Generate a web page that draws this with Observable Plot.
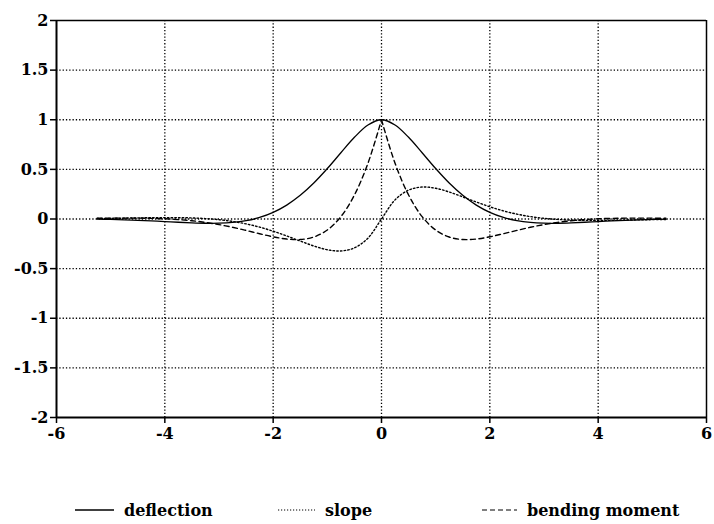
<!DOCTYPE html>
<html>
<head>
<meta charset="utf-8">
<script src="https://cdn.jsdelivr.net/npm/d3@7"></script>
<script src="https://cdn.jsdelivr.net/npm/@observablehq/plot@0.6"></script>
<style>
  html, body { margin: 0; padding: 0; background: #fff; }
  #wrap { position: relative; width: 714px; height: 524px; font-family: "DejaVu Serif", "Liberation Serif", serif; font-weight: bold; }
  #legend { position: absolute; left: 0; top: 497px; width: 714px; height: 26px; }
  .item { position: absolute; top: 0; display: flex; align-items: center; height: 26px; font-size: 16px; color: #000; }
  .item svg { margin-right: 10px; }
</style>
</head>
<body>
<div id="wrap"><div id="chart"></div><div id="legend"></div></div>
<script>
// x positions of the sampled points
const xs = [-5.25,-5,-4.75,-4.5,-4.25,-4,-3.75,-3.5,-3.25,-3,-2.75,-2.5,-2.25,-2,-1.75,-1.5,-1.25,-1,-0.75,-0.5,-0.25,
  0,0.25,0.5,0.75,1,1.25,1.5,1.75,2,2.25,2.5,2.75,3,3.25,3.5,3.75,4,4.25,4.5,4.75,5,5.25];
const deflection = [-0.0017,-0.0045,-0.0084,-0.0132,-0.0192,-0.0258,-0.0327,-0.0389,-0.0428,-0.0423,-0.0347,-0.0166,0.0158,0.0667,0.1400,0.2383,0.3622,0.5083,0.6676,0.8230,0.9473,
  1,0.9473,0.8230,0.6676,0.5083,0.3622,0.2383,0.1400,0.0667,0.0158,-0.0166,-0.0347,-0.0423,-0.0428,-0.0389,-0.0327,-0.0258,-0.0192,-0.0132,-0.0084,-0.0045,-0.0017];
const slope = [0.0044,0.0064,0.0087,0.0108,0.0128,0.0138,0.0134,0.0106,0.0042,-0.0070,-0.0244,-0.0491,-0.0820,-0.1230,-0.1710,-0.2225,-0.2719,-0.3096,-0.3220,-0.2908,-0.1927,
  0,0.1927,0.2908,0.3220,0.3096,0.2719,0.2225,0.1710,0.1230,0.0820,0.0491,0.0244,0.0070,-0.0042,-0.0106,-0.0134,-0.0138,-0.0128,-0.0108,-0.0087,-0.0064,-0.0044];
const bendingMoment = [0.0071,0.0083,0.0090,0.0085,0.0064,0.0019,-0.0059,-0.0177,-0.0344,-0.0563,-0.0835,-0.1149,-0.1482,-0.1793,-0.2020,-0.2068,-0.1816,-0.1108,0.0237,0.2415,0.5619,
  1,0.5619,0.2415,0.0237,-0.1108,-0.1816,-0.2068,-0.2020,-0.1793,-0.1482,-0.1149,-0.0835,-0.0563,-0.0344,-0.0177,-0.0059,0.0019,0.0064,0.0085,0.0090,0.0083,0.0071];
const xTicks = [-6,-4,-2,0,2,4,6];
const yTicks = [-2,-1.5,-1,-0.5,0,0.5,1,1.5,2];
const seriesNames = ["deflection", "slope", "bending moment"];

const dashes = {"deflection": null, "slope": "1.5,2.2", "bending moment": "5,3.5"};

const rowsD = xs.map((x, i) => ({x, y: deflection[i]}));
const rowsS = xs.map((x, i) => ({x, y: slope[i]}));
// bending moment has a cusp at x = 0: draw as two halves
const rowsM = xs.flatMap((x, i) => {
  const r = [];
  if (x <= 0) r.push({x, y: bendingMoment[i], seg: "L"});
  if (x >= 0) r.push({x, y: bendingMoment[i], seg: "R"});
  return r;
});

const gridStyle = {stroke: "#000", strokeOpacity: 1, strokeWidth: 1.3, strokeDasharray: "1.3,2"};

const chart = Plot.plot({
  width: 714,
  height: 462,
  marginLeft: 56,
  marginRight: 8,
  marginTop: 20,
  marginBottom: 45,
  style: {fontFamily: '"DejaVu Serif", "Liberation Serif", serif', fontWeight: "bold", fontSize: "16px", color: "#000", background: "#fff"},
  x: {domain: [-6, 6]},
  y: {domain: [-2, 2]},
  marks: [
    Plot.gridX(xTicks.filter(t => t !== -6 && t !== 6), gridStyle),
    Plot.gridY(yTicks.filter(t => t !== -2 && t !== 2), gridStyle),
    Plot.line(rowsD, {x: "x", y: "y", stroke: "#000", strokeWidth: 1.3, curve: "catmull-rom"}),
    Plot.line(rowsS, {x: "x", y: "y", stroke: "#000", strokeWidth: 1.4, strokeDasharray: dashes["slope"], curve: "catmull-rom"}),
    Plot.line(rowsM, {x: "x", y: "y", z: "seg", stroke: "#000", strokeWidth: 1.4, strokeDasharray: dashes["bending moment"], curve: "catmull-rom"}),
    Plot.ruleX([-6], {stroke: "#000", strokeWidth: 2}),
    Plot.ruleY([-2], {stroke: "#000", strokeWidth: 2}),
    Plot.ruleX([6], {stroke: "#000", strokeWidth: 1.5}),
    Plot.ruleY([2], {stroke: "#000", strokeWidth: 1.5}),
    Plot.axisX({ticks: xTicks, tickFormat: d => String(d), tickSize: 6, tickPadding: 4, stroke: "#000", strokeWidth: 1.5, fill: "#000", label: null}),
    Plot.axisY({ticks: yTicks, tickFormat: d => String(d), tickSize: 6, tickPadding: 2, stroke: "#000", strokeWidth: 1.5, fill: "#000", label: null})
  ]
});
document.getElementById("chart").appendChild(chart);

// legend
const legendPos = [{line: 75, len: 39}, {line: 278, len: 37}, {line: 482, len: 35}];
const legend = document.getElementById("legend");
seriesNames.forEach((name, i) => {
  const item = document.createElement("div");
  item.className = "item";
  item.style.left = legendPos[i].line + "px";
  const w = legendPos[i].len;
  const dash = dashes[name];
  item.innerHTML = `<svg width="${w}" height="10"><line x1="0" x2="${w}" y1="5" y2="5" stroke="#000" stroke-width="${i === 0 ? 1.6 : 1.2}" ${dash ? `stroke-dasharray="${i === 1 ? '1.2,1.8' : '5,3'}"` : ""}/></svg><span>${name}</span>`;
  legend.appendChild(item);
});
</script>
</body>
</html>
